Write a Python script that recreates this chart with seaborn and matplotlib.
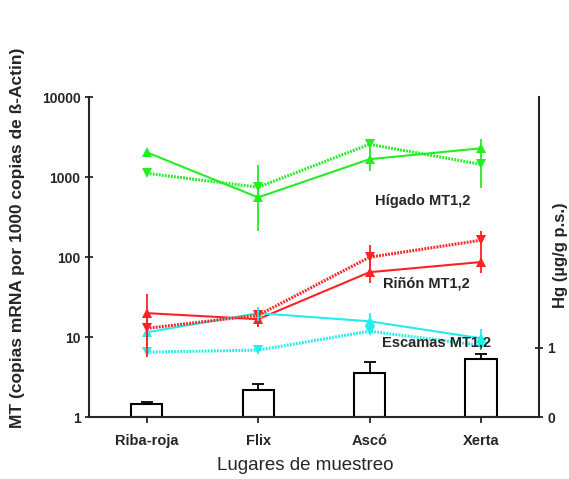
import numpy as np
import pandas as pd
import matplotlib
matplotlib.use("Agg")
import matplotlib.pyplot as plt
import seaborn as sns

# Lugares de muestreo
sites = ["Riba-roja", "Flix", "Ascó", "Xerta"]

# MT1,2 (copias mRNA / 1000 copias ß-Actin), serie A (línea continua, triángulo arriba)
higado_a = [2050, 560, 1680, 2300]
rinon_a = [20, 16.8, 65, 87]
escamas_a = [11.5, 20, 15.8, 9.7]
# serie B (línea punteada, triángulo abajo)
higado_b = [1120, 750, 2580, 1450]
rinon_b = [12.9, 18.8, 100, 163]
escamas_b = [6.5, 6.9, 11.9, 7.9]

# extremos de las barras de error (NaN = sin barra)
higado_a_lo = [np.nan, 212, 1190, 1800]
higado_a_hi = [np.nan, 900, 2100, 2990]
higado_b_lo = [np.nan, 500, 2000, 730]
higado_b_hi = [np.nan, 1410, 2990, 1800]
rinon_a_lo = [5.6, 13.3, 47, 63]
rinon_a_hi = [35, 20.5, 90, 120]
rinon_b_lo = [8, 14, 75, 120]
rinon_b_hi = [20, 20.5, 141, 211]
escamas_a_lo = [np.nan, 16, 11, 7.3]
escamas_a_hi = [np.nan, 24, 20, 12.6]

# Hg (ug/g p.s.)
hg = [0.19, 0.39, 0.64, 0.84]
hg_err = [0.03, 0.09, 0.16, 0.07]

pos = np.arange(len(sites))

rows = []
for tejido, serie, vals in [("Hígado", "A", higado_a), ("Hígado", "B", higado_b),
                            ("Riñón", "A", rinon_a), ("Riñón", "B", rinon_b),
                            ("Escamas", "A", escamas_a), ("Escamas", "B", escamas_b)]:
    for p, v in zip(pos, vals):
        rows.append({"pos": p, "mt": v, "tejido": tejido, "serie": serie})
df = pd.DataFrame(rows)

colores = {"Hígado": "#22ee22", "Riñón": "#ff2222", "Escamas": "#22eeee"}

sns.set_theme(style="ticks")
plt.rcParams["font.family"] = ["Liberation Sans", "DejaVu Sans"]

fig = plt.figure(figsize=(5.69, 4.79), dpi=100)
ax = fig.add_axes([0.156, 0.129, 0.791, 0.668])

# continuas
sns.lineplot(data=df[df["serie"] == "A"], x="pos", y="mt", hue="tejido", palette=colores,
             marker="^", markersize=7.5, markeredgewidth=0, linewidth=1.5, legend=False, ax=ax)
# punteadas (más gruesas)
sns.lineplot(data=df[df["serie"] == "B"], x="pos", y="mt", hue="tejido", palette=colores,
             marker="v", markersize=7.5, markeredgewidth=0, linewidth=2.2, linestyle=(0, (0.6, 0.4)),
             legend=False, ax=ax)

for vals, lo, hi, c in [(higado_a, higado_a_lo, higado_a_hi, colores["Hígado"]),
                        (higado_b, higado_b_lo, higado_b_hi, colores["Hígado"]),
                        (rinon_a, rinon_a_lo, rinon_a_hi, colores["Riñón"]),
                        (rinon_b, rinon_b_lo, rinon_b_hi, colores["Riñón"]),
                        (escamas_a, escamas_a_lo, escamas_a_hi, colores["Escamas"])]:
    v = np.array(vals)
    lo = np.array(lo)
    hi = np.array(hi)
    ok = ~np.isnan(lo)
    ax.errorbar(pos[ok], v[ok], yerr=[v[ok] - lo[ok], hi[ok] - v[ok]], fmt="none",
                ecolor=c, elinewidth=1.3, capsize=0)

ax.set_yscale("log")
ax.set_ylim(1, 10000)
ax.set_xlim(-0.52, 3.52)
ax.set_yticks([1, 10, 100, 1000, 10000])
ax.set_yticklabels(["1", "10", "100", "1000", "10000"])
ax.minorticks_off()
ax.set_xticks(pos)
ax.set_xticklabels(sites)
ax.set_xlabel("")
ax.set_ylabel("")
for s in ["top", "right"]:
    ax.spines[s].set_visible(False)
ax.spines["left"].set_linewidth(1.5)
ax.spines["bottom"].set_linewidth(1.5)
ax.tick_params(axis="y", direction="inout", length=6, width=1.3, labelsize=10, pad=3)
ax.tick_params(axis="x", direction="out", length=4, width=1.3, labelsize=10.5, pad=8)
for t in ax.get_xticklabels() + ax.get_yticklabels():
    t.set_fontweight("bold")

# eje derecho: Hg
ax2 = ax.twinx()
sns.barplot(x=pos, y=hg, native_scale=True, width=0.28, color="white", edgecolor="black",
            linewidth=1.5, ax=ax2)
ax2.errorbar(pos, hg, yerr=[np.zeros(len(hg)), hg_err], fmt="none", ecolor="black",
             elinewidth=1.3, capsize=4, capthick=1.3)
ax2.set_ylim(0, 4.6)
ax2.set_xlim(-0.52, 3.52)
ax2.set_yticks([0, 1])
ax2.set_yticklabels(["0", "1"])
ax2.set_ylabel("")
for s in ["top", "left", "bottom"]:
    ax2.spines[s].set_visible(False)
ax2.spines["right"].set_linewidth(1.5)
ax2.tick_params(axis="y", direction="inout", length=6, width=1.3, labelsize=10, pad=3)
for t in ax2.get_yticklabels():
    t.set_fontweight("bold")
ax.set_zorder(ax2.get_zorder() + 1)
ax.patch.set_visible(False)

ax.text(2.48, 500, "Hígado MT1,2", ha="center", va="center", fontsize=10.5, fontweight="bold")
ax.text(2.51, 47, "Riñón MT1,2", ha="center", va="center", fontsize=10.5, fontweight="bold")
ax.text(2.6, 8.7, "Escamas MT1,2", ha="center", va="center", fontsize=10.5, fontweight="bold")

fig.text(18 / 569, 1 - 238 / 479, "MT (copias mRNA por 1000 copias de ß-Actin)", rotation=90,
         ha="center", va="center", fontsize=12.5, fontweight="bold")
fig.text(560 / 569, 1 - 255 / 479, "Hg (µg/g p.s.)", rotation=90,
         ha="center", va="center", fontsize=12, fontweight="bold")
fig.text(305 / 569, 1 - 465 / 479, "Lugares de muestreo", ha="center", va="center", fontsize=13.5)

fig.savefig("out.png", dpi=100)
